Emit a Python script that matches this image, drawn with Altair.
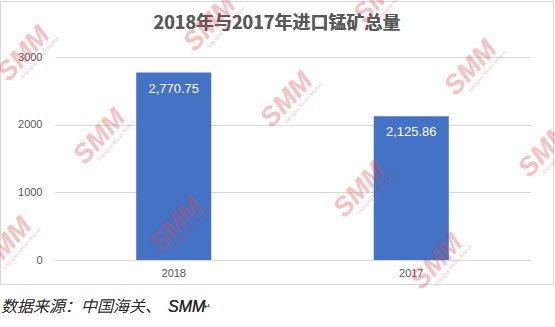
import altair as alt
import pandas as pd

# ---- data ----
years = ["2018", "2017"]
totals = [2770.75, 2125.86]
y_ticks = [0, 1000, 2000, 3000]
title_text = "2018年与2017年进口锰矿总量"
source_cn = "数据来源：中国海关、"
source_en = "SMM"

# watermark centres (page pixels) - decoration only
wm_x = [24, 210, 380, 100, 287, 471, 545, 176, 6, 360, 437]
wm_y = [54, 24, -4, 137, 100, 68, 150, 225, 245, 190, 262]

PAD_L, PAD_T = 55, 57
W, H = 475, 203

df = pd.DataFrame({"year": years, "total": totals})
wm = pd.DataFrame({"x": [v - PAD_L for v in wm_x], "y": [v - PAD_T for v in wm_y]})

x_enc = alt.X("year:N", sort=None, title=None,
              scale=alt.Scale(paddingInner=0.684, paddingOuter=0.342),
              axis=alt.Axis(labelAngle=0, labelFontSize=11, labelColor="#595959",
                            labelFont="Liberation Sans", ticks=False, labelPadding=7,
                            domainColor="#d9d9d9", domainWidth=1, grid=False))
y_enc = alt.Y("total:Q", title=None,
              scale=alt.Scale(domain=[0, 3000], nice=False),
              axis=alt.Axis(values=y_ticks, format="d", labelFontSize=11,
                            labelColor="#595959", labelFont="Liberation Sans",
                            ticks=False, domain=False, labelPadding=13,
                            gridColor="#d9d9d9", gridWidth=1))

base = alt.Chart(df)
bars = base.mark_bar(color="#4472C4").encode(x=x_enc, y=y_enc)
labels = base.mark_text(color="white", fontSize=13, font="Liberation Sans",
                        baseline="middle", dy=16).encode(
    x=alt.X("year:N", sort=None), y="total:Q",
    text=alt.Text("total:Q", format=",.2f"))

border = alt.Chart(df).mark_rect(fill="white", fillOpacity=0, stroke="#d9d9d9",
                                 strokeWidth=1).encode(
    x=alt.value(0.5 - PAD_L), x2=alt.value(553.5 - PAD_L),
    y=alt.value(1.5 - PAD_T), y2=alt.value(284.5 - PAD_T))

title = alt.Chart(df).mark_text(text=title_text, fontSize=18, fontWeight="bold",
                                font="Noto Sans CJK SC", color="#595959",
                                align="center", baseline="middle").encode(
    x=alt.value(277 - PAD_L), y=alt.value(24 - PAD_T))

caption_cn = alt.Chart(df).mark_text(text=source_cn, fontSize=16, fontStyle="italic",
                                     fontWeight=300,
                                     font="Noto Sans CJK SC", color="#262626",
                                     align="left", baseline="middle").encode(
    x=alt.value(1 - PAD_L), y=alt.value(307 - PAD_T))
caption_en = alt.Chart(df).mark_text(text=source_en, fontSize=16, fontStyle="italic",
                                     font="Liberation Sans", color="#262626",
                                     align="left", baseline="middle").encode(
    x=alt.value(168 - PAD_L), y=alt.value(307 - PAD_T))

para = alt.Chart(df).mark_text(text="↵", fontSize=8, font="DejaVu Sans",
                               color="#555555", align="left", baseline="middle").encode(
    x=alt.value(204 - PAD_L), y=alt.value(307 - PAD_T))

wm_big = alt.Chart(wm).mark_text(text="SMM", fontSize=27, fontWeight="bold",
                                 fontStyle="italic", font="Liberation Sans",
                                 color="#e64646", opacity=0.33, angle=312,
                                 align="center", baseline="middle").encode(
    x=alt.X("x:Q", scale=None), y=alt.Y("y:Q", scale=None))
wm_small = alt.Chart(wm).mark_text(text="Shanghai Metals Market", fontSize=5,
                                   font="Liberation Sans", color="#e64646",
                                   opacity=0.33, angle=312, align="center",
                                   baseline="middle", dy=14, dx=8).encode(
    x=alt.X("x:Q", scale=None), y=alt.Y("y:Q", scale=None))

chart = alt.layer(border, bars, labels, title, caption_cn, caption_en, para,
                  wm_big, wm_small).properties(
    width=W, height=H,
    padding={"left": PAD_L, "top": PAD_T, "right": 555 - PAD_L - W, "bottom": 327 - PAD_T - H},
    autosize=alt.AutoSizeParams(type="none"),
    background="white",
).configure_view(stroke=None)

chart.save("out.html", embed_options={"renderer": "svg", "actions": False})
